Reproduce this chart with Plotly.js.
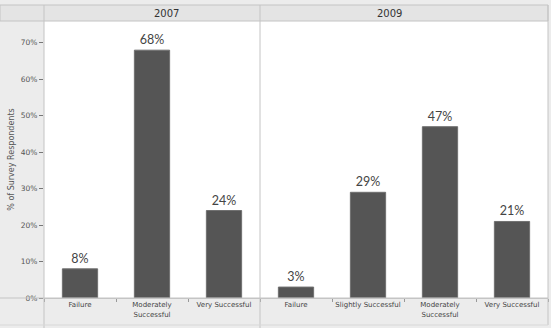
<!DOCTYPE html>
<html>
<head>
<meta charset="utf-8">
<script src="https://cdn.plot.ly/plotly-3.0.1.min.js"></script>
<style>html,body{margin:0;padding:0;background:#ececec;}#chart{width:551px;height:328px;}</style>
</head>
<body>
<div id="chart"></div>
<script>
// Data
const cats2007 = ["Failure", "Moderately<br>Successful", "Very Successful"];
const vals2007 = [8, 68, 24];
const cats2009 = ["Failure", "Slightly Successful", "Moderately<br>Successful", "Very Successful"];
const vals2009 = [3, 29, 47, 21];
const panelTitles = ["2007", "2009"];
const yTickVals = [0, 10, 20, 30, 40, 50, 60, 70];
const yTickText = ["0%", "10%", "20%", "30%", "40%", "50%", "60%", "70%"];
const yTitle = "% of Survey Respondents";

const barColor = "#555555";
const common = {
  type: "bar",
  width: 0.49,
  marker: {color: barColor, line: {color: "#707070", width: 1}},
  texttemplate: "%{text}",
  textposition: "outside",
  cliponaxis: false,
  textfont: {family: "Lato, 'Open Sans', sans-serif", size: 12.5, color: "#444"},
  hoverinfo: "skip",
  showlegend: false
};

const traces = [
  Object.assign({}, common, {x: cats2007, y: vals2007, text: vals2007.map(v => v + "%"), xaxis: "x", yaxis: "y"}),
  Object.assign({}, common, {x: cats2009, y: vals2009, text: vals2009.map(v => v + "%"), xaxis: "x2", yaxis: "y"})
];

// pixel helpers (plot area: x 44..548, y 21..298)
const L = 44, R = 3, T = 21, B = 30, W = 551, H = 328;
const pw = W - L - R, ph = H - T - B;
const px = p => (p - L) / pw;
const py = p => (H - B - p) / ph;
const split = 3 / 7;
const lineC = "#c4c4c4";

const xaxisCommon = {
  showgrid: false, zeroline: false,
  showline: true, linecolor: lineC, linewidth: 1,
  ticks: "outside", ticklen: 3, tickcolor: "#999", tickson: "boundaries",
  tickangle: 0,
  tickfont: {family: "DejaVu Sans, sans-serif", size: 7, color: "#444"},
  fixedrange: true
};

const layout = {
  width: W, height: H,
  margin: {l: L, r: R, t: T, b: B, pad: 0},
  paper_bgcolor: "#ececec",
  plot_bgcolor: "#ffffff",
  bargap: 0.51,
  xaxis: Object.assign({}, xaxisCommon, {domain: [0, split], anchor: "y"}),
  xaxis2: Object.assign({}, xaxisCommon, {domain: [split, 1], anchor: "y"}),
  yaxis: {
    range: [0, 76], fixedrange: true,
    tickmode: "array", tickvals: yTickVals, ticktext: yTickText,
    showgrid: false, zeroline: false, showline: false,
    ticks: "outside", ticklen: 4, tickcolor: "#777",
    tickfont: {family: "DejaVu Sans, sans-serif", size: 7.5, color: "#555"},
    title: {text: yTitle, standoff: 5, font: {family: "DejaVu Sans, sans-serif", size: 8, color: "#555"}}
  },
  shapes: [
    {type: "rect", xref: "paper", yref: "paper", x0: px(0), x1: px(548), y0: py(21), y1: py(5),
     fillcolor: "#e4e4e4", line: {color: lineC, width: 1}, layer: "below"},
    {type: "line", xref: "paper", yref: "paper", x0: 0, x1: 0, y0: py(328), y1: py(5), line: {color: lineC, width: 1}},
    {type: "line", xref: "paper", yref: "paper", x0: split, x1: split, y0: py(328), y1: py(5), line: {color: lineC, width: 1}},
    {type: "line", xref: "paper", yref: "paper", x0: 1, x1: 1, y0: py(325), y1: py(5), line: {color: lineC, width: 1}},
    {type: "line", xref: "paper", yref: "paper", x0: px(0), x1: 1, y0: 0, y1: 0, line: {color: lineC, width: 1}},
    {type: "line", xref: "paper", yref: "paper", x0: px(0), x1: 1, y0: py(325), y1: py(325), line: {color: "#d8d8d8", width: 1}}
  ],
  annotations: [
    {xref: "paper", yref: "paper", x: split / 2, y: py(13), text: panelTitles[0], showarrow: false,
     font: {family: "DejaVu Sans, sans-serif", size: 10, color: "#333"}, yanchor: "middle"},
    {xref: "paper", yref: "paper", x: (split + 1) / 2, y: py(13), text: panelTitles[1], showarrow: false,
     font: {family: "DejaVu Sans, sans-serif", size: 10, color: "#333"}, yanchor: "middle"}
  ]
};

Plotly.newPlot("chart", traces, layout, {displayModeBar: false, staticPlot: true});
</script>
</body>
</html>
